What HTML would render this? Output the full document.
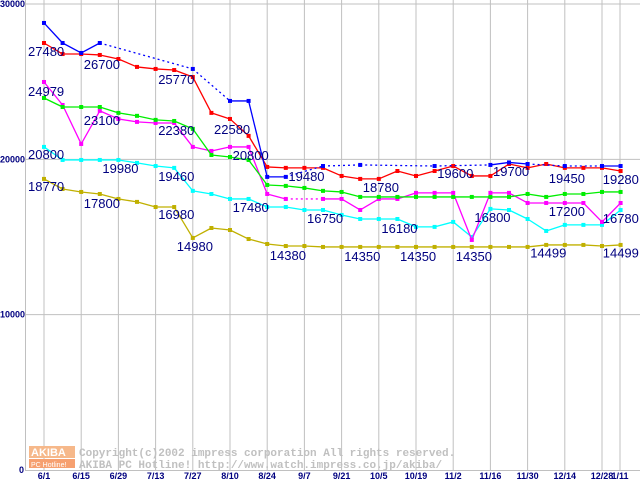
<!DOCTYPE html>
<html><head><meta charset="utf-8"><style>
body{margin:0;background:#fff;}
svg{display:block;font-family:"Liberation Sans",sans-serif;}
</style></head><body>
<svg id="chart" width="640" height="480" viewBox="0 0 640 480" xmlns="http://www.w3.org/2000/svg">
<rect x="0" y="0" width="640" height="480" fill="#fff"/>
<g id="grid"></g>
<g id="series"></g>
<g id="labels"></g>
<g id="axes"></g>
<g>
<rect x="29" y="446" width="46" height="12" fill="#f6b88a"/>
<rect x="29" y="459" width="46" height="9" fill="#f6a070"/>
<text x="31" y="456" font-size="11" fill="#fff" font-weight="bold">AKIBA</text>
<text x="31" y="467" font-size="7" fill="#fff">PC Hotline!</text>
<text x="79" y="456" font-size="11" fill="#c0c0c0" font-family="Liberation Mono, monospace" font-weight="bold">Copyright(c)2002 impress corporation All rights reserved.</text>
<text x="79" y="468" font-size="11" fill="#c0c0c0" font-family="Liberation Mono, monospace" font-weight="bold">AKIBA PC Hotline!  http://www.watch.impress.co.jp/akiba/</text>
</g>
</svg>
<script>
const yTicks=[0,10000,20000,30000];
const xLabels=["6/1","6/15","6/29","7/13","7/27","8/10","8/24","9/7","9/21","10/5","10/19","11/2","11/16","11/30","12/14","12/28","1/11"];
const blueVals=[28780,27490,26850,27490,null,null,null,null,25820,null,23760,23760,18870,18870,null,19570,null,19640,null,null,null,19570,null,null,19640,19800,19700,null,19570,null,19570,19570];
const redVals=[27490,26780,26780,26720,26460,25950,25820,25750,25300,22990,22600,21510,19510,19450,19450,19450,18930,18740,18740,19250,18930,19250,19570,18930,18930,19700,19450,19700,19450,19450,19450,19250];
const greenVals=[23950,23370,23370,23370,22990,22800,22540,22470,21960,20280,20150,19960,18350,18290,18160,17970,17900,17580,17580,17580,17580,17580,17580,17580,17580,17580,17770,17580,17770,17770,17900,17900];
const magentaVals=[24980,23500,20990,23120,22600,22410,22340,22340,20800,20540,20800,20800,17770,17450,null,17450,17450,16740,17450,17450,17840,17840,17840,14810,17840,17840,17190,17190,17190,17190,15970,17190];
const cyanVals=[20800,19960,19960,19960,19960,19770,19570,19450,17970,17770,17450,17450,16930,16930,16740,16740,16420,16160,16160,16160,15650,15650,15970,15000,16810,16740,16160,15390,15780,15780,15780,16740];
const oliveVals=[18740,18090,17900,17770,17450,17260,16930,16930,14940,15580,15450,14870,14550,14420,14420,14360,14360,14360,14360,14360,14360,14360,14360,14360,14360,14360,14360,14490,14490,14490,14420,14490];
const labelTexts=["27480","26700","25770","24979","23100","22380","22580","20800","20800","19980","19460","19480","18770","17800","16980","17480","14980","14380","16750","18780","16180","14350","14350","19600","14350","16800","19700","17200","19450","14499","19280","16780","14499"];
const labelWeeks=[0,3,7,0,3,7,10,0,11,4,7,14,0,3,7,11,8,13,15,18,19,17,20,22,23,24,25,28,28,27,30.9,30.9,30.9];
const labelValues=[26980,26140,25180,24400,22530,21890,21960,20350,20280,19450,18930,18930,18290,17190,16480,16930,14420,13840,16230,18220,15580,13780,13780,19120,13780,16290,19250,16680,18800,14000,18740,16230,14000];

const svg=document.getElementById('chart');
const NS='http://www.w3.org/2000/svg';
const X0=44, DX=18.6, Y0=470, YS=0.015533;
const xw=i=>X0+i*DX;
const yv=v=>Y0-v*YS;
function mk(tag,attrs,parent){const e=document.createElementNS(NS,tag);for(const k in attrs)e.setAttribute(k,attrs[k]);parent.appendChild(e);return e;}

const grid=document.getElementById('grid');
yTicks.forEach(t=>{if(t===0)return;const l=mk('line',{x1:25,x2:640,y1:yv(t),y2:yv(t),stroke:'#c0c0c0','stroke-width':1},grid);

});
xLabels.forEach((s,i)=>{const x=i<16?xw(i*2):620;const l=mk('line',{x1:x,x2:x,y1:0,y2:470,stroke:'#c0c0c0','stroke-width':1},grid);

});

const axes=document.getElementById('axes');
const ya=mk('line',{x1:25.5,x2:25.5,y1:0,y2:471,stroke:'#c0c0c0','stroke-width':1},axes);


const xa=mk('line',{x1:25,x2:640,y1:470.5,y2:470.5,stroke:'#c0c0c0','stroke-width':1},axes);


yTicks.forEach(t=>{const tx=mk('text',{x:t===0?19:0,y:yv(t)+3,'font-size':9,'font-weight':'bold',fill:'#000080'},axes);tx.textContent=t;

});
xLabels.forEach((s,i)=>{const x=i<16?xw(i*2):620;const tx=mk('text',{x:x,y:479,'font-size':9,'font-weight':'bold',fill:'#000080','text-anchor':'middle'},axes);tx.textContent=s;

});

const sg=document.getElementById('series');
function drawSeries(vals,color,name){
  const g=mk('g',{},sg);
  
  
  let prev=-1;
  vals.forEach((v,i)=>{
    if(v===null)return;
    if(prev>=0){
      const attrs={x1:xw(prev),y1:yv(vals[prev]),x2:xw(i),y2:yv(v),stroke:color,'stroke-width':1.3};
      if(i-prev>1)attrs['stroke-dasharray']='2,3';
      const l=mk('line',attrs,g);
      
      
    }
    prev=i;
  });
  vals.forEach((v,i)=>{
    if(v===null)return;
    const r=mk('rect',{x:xw(i)-2,y:yv(v)-2,width:4,height:4,fill:color},g);
    
    
  });
}
drawSeries(oliveVals,'#c0b000','series-olive');
drawSeries(cyanVals,'#00ffff','series-cyan');
drawSeries(magentaVals,'#ff00ff','series-magenta');
drawSeries(greenVals,'#00ee00','series-green');
drawSeries(redVals,'#ff0000','series-red');
drawSeries(blueVals,'#0000ff','series-blue');

const lg=document.getElementById('labels');
labelTexts.forEach((s,i)=>{
  const t=mk('text',{x:xw(labelWeeks[i])-16,y:yv(labelValues[i])+5,'font-size':13,fill:'#000080'},lg);
  t.textContent=s;
  
  
});
</script>
</body></html>
